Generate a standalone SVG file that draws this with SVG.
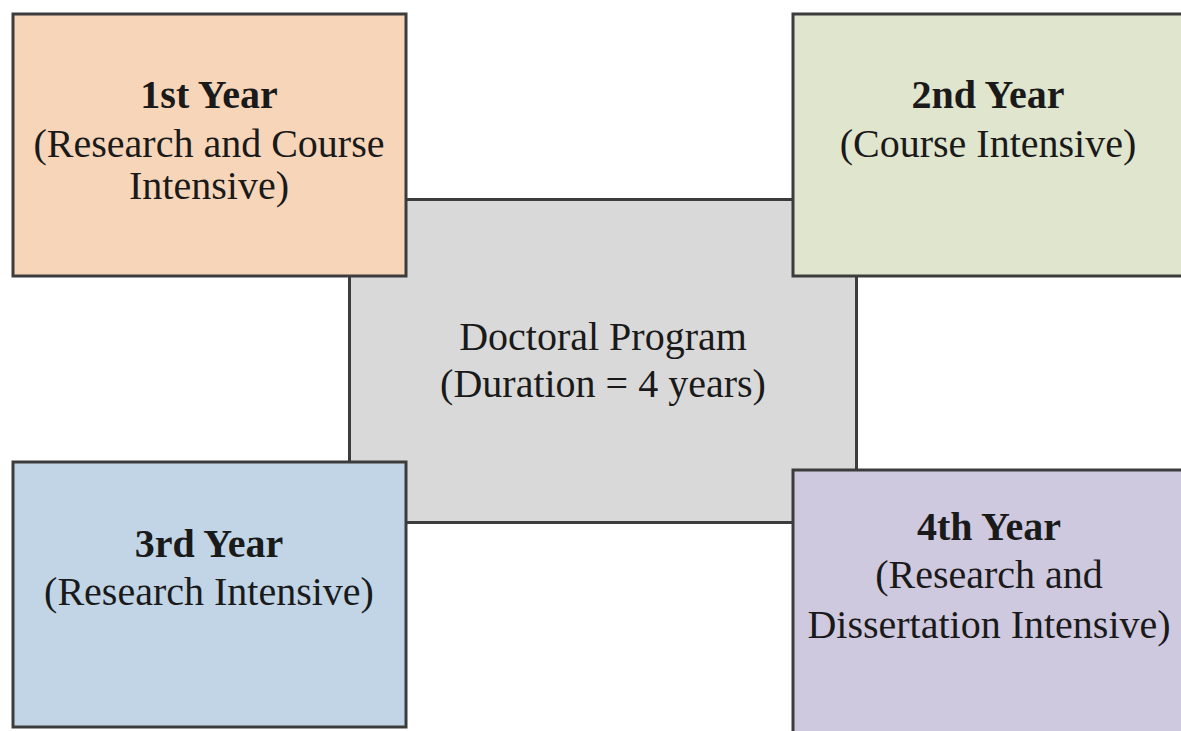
<svg xmlns="http://www.w3.org/2000/svg" width="1181" height="731" viewBox="0 0 1181 731">
  <style>
    .box { stroke: #3c3c3c; stroke-width: 3; }
    .t { font-family: "Liberation Serif", "Times New Roman", serif; font-size: 40px; fill: #1a1a1a; text-anchor: middle; }
    .b { font-weight: bold; }
  </style>
  <rect width="1181" height="731" fill="#ffffff"/>
  <g id="center">
    <rect class="box" x="349.5" y="199.5" width="507" height="323" fill="#d9d9d9"/>
    <text class="t" x="603" y="350">Doctoral Program</text>
    <text class="t" x="603" y="397">(Duration = 4 years)</text>
  </g>
  <g id="connectors"></g>
  <g id="year1">
    <rect class="box" x="13" y="14" width="393" height="262" fill="#f6d5b9"/>
    <text class="t b" x="209" y="108">1st Year</text>
    <text class="t" x="209" y="157">(Research and Course</text>
    <text class="t" x="209" y="199">Intensive)</text>
  </g>
  <g id="year2">
    <rect class="box" x="793" y="14" width="395" height="262" fill="#e0e5cd"/>
    <text class="t b" x="988" y="108">2nd Year</text>
    <text class="t" x="988" y="157">(Course Intensive)</text>
  </g>
  <g id="year3">
    <rect class="box" x="13" y="462" width="393" height="265" fill="#c1d5e6"/>
    <text class="t b" x="209" y="557">3rd Year</text>
    <text class="t" x="209" y="605">(Research Intensive)</text>
  </g>
  <g id="year4">
    <rect class="box" x="793" y="470" width="395" height="270" fill="#cfc9df"/>
    <text class="t b" x="989" y="540">4th Year</text>
    <text class="t" x="989" y="588">(Research and</text>
    <text class="t" x="989" y="638">Dissertation Intensive)</text>
  </g>
</svg>
